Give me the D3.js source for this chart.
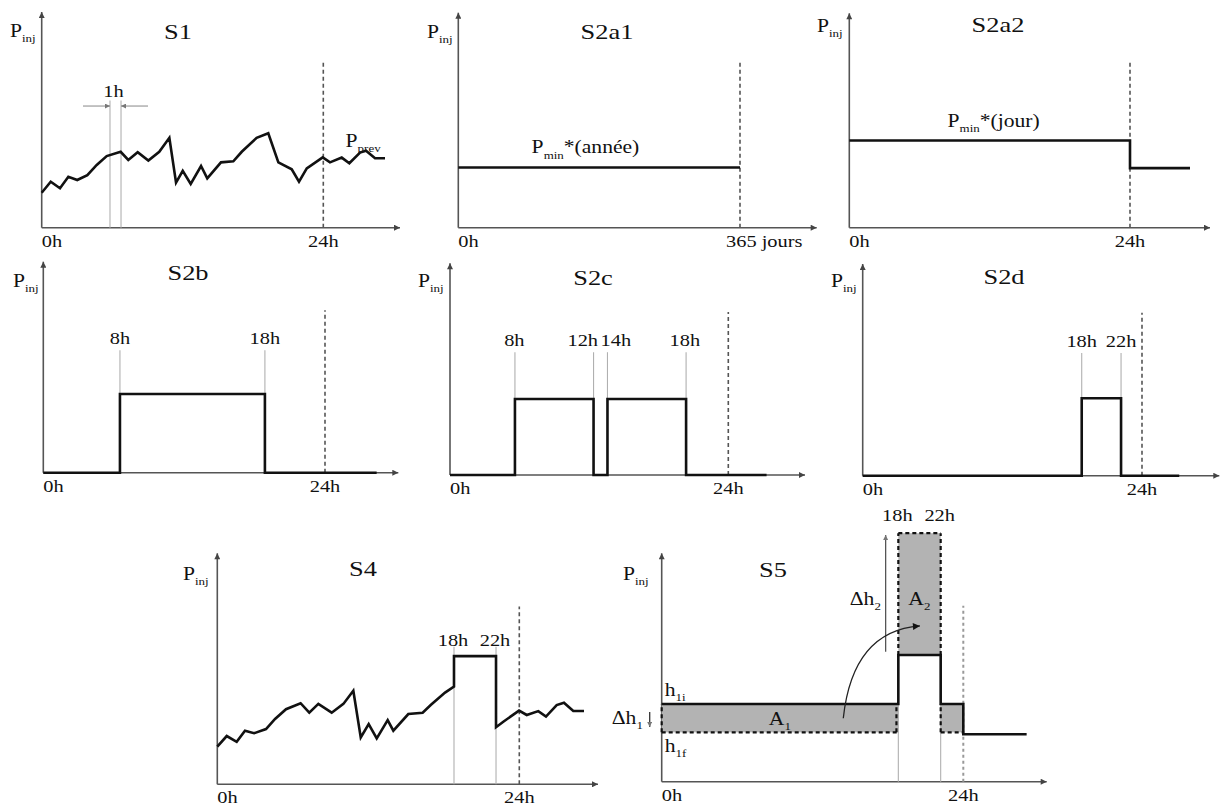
<!DOCTYPE html>
<html><head><meta charset="utf-8">
<script src="https://cdn.jsdelivr.net/npm/d3@7"></script>
<style>body{margin:0;background:#fff}svg{display:block}
svg text{font-family:"Liberation Serif","Times New Roman",Tinos,serif}</style>
</head><body><script>
// ---------------- DATA ----------------
// S1 forecast (hours, power in % of axis height)
const s1Hours = [0,0.77,1.56,2.27,3.03,3.89,4.69,5.54,6.73,7.38,8.18,9.09,10.02,10.88,11.45,12.02,12.7,13.58,14.11,15.28,16.33,17.05,18.32,19.31,20.17,21.31,21.93,22.59,23.95,24.57,25.57,26.22,27.13,27.64,28.41,29.26];
const s1Power = [16.2,21.3,18.3,23.6,22.1,24.4,29.1,33.2,35.2,31.4,35.0,31.1,35.2,41.7,20.9,26.4,20.3,28.6,22.9,30.3,30.8,35.2,41.7,43.8,30.3,27.1,21.3,27.5,32.6,30.3,32.5,29.9,34.8,35.7,32.2,32.2];
const s1Marker = [5.82, 6.76];       // the "1h" interval
// S2a1 : constant over the year
const s2a1Days = [0, 365];
const s2a1Power = [28, 28];
// S2a2 : constant over the day, then lower
const s2a2Hours = [0, 24, 24, 29.13];
const s2a2Power = [40.7, 40.7, 27.8, 27.8];
// S2b, S2c, S2d : injection windows
const s2bEdges = [6.53, 18.88];
const s2bLabels = ["8h", "18h"];
const s2bLevel = 37.3, s2bEnd = 28.4;
const s2cEdges = [5.6, 12.38, 13.58, 20.36];
const s2cLabels = ["8h", "12h", "14h", "18h"];
const s2cLabelAt = [5.55, 11.45, 14.3, 20.25];
const s2cLevel = 35.9, s2cEnd = 27.3;
const s2dEdges = [18.82, 22.2];
const s2dLabels = ["18h", "22h"];
const s2dLevel = 36.6, s2dEnd = 27.2;
// S4 : forecast with peak between 18h and 22h
const s4Hours = [0,0.75,1.54,2.2,2.92,3.87,4.59,5.46,6.62,7.31,8.03,9.09,10.02,10.81,11.4,12.03,12.67,13.54,13.99,15.18,16.32,16.96,18.1,18.81,18.81,22.15,22.15,22.73,23.98,24.59,25.51,26.12,26.97,27.55,28.29,29.14];
const s4Power = [16.3,20.9,18.4,23.2,22.1,23.9,28.3,32.5,35.1,31,34.8,31,34.8,40.5,20.3,26.1,19.9,27.8,23.2,30.4,31,34.3,39.7,42.3,55.5,55.5,24.7,27.1,31.9,30,31.7,29.3,34.3,35.3,31.7,31.7];
const s4Edges = [18.81, 22.15];
const s4Labels = ["18h", "22h"];
// S5 : energy shift
const s5Hours = [0, 18.83, 18.83, 22.2, 22.2, 24, 24, 29.04];
const s5Power = [34, 34, 55.5, 55.5, 34, 34, 20.8, 20.8];
const s5H1i = 34, s5H1f = 21.6, s5Peak = 55.5, s5A2Top = 108.8;
const s5Edges = [18.83, 22.2];
const s5Labels = ["18h", "22h"];
const dashTop = 77;     // height of the 24h dashed markers
const guideTop = 58;    // top of thin guide lines

// ---------------- LAYOUT ----------------
const W = 1221, H = 806;
const SX = 1.2;
const svg = d3.select("body").append("svg").attr("width", W).attr("height", H);
const defs = svg.append("defs");
function marker(id, color, w, h) {
  defs.append("marker").attr("id", id).attr("viewBox", "0 0 10 10")
    .attr("refX", 10).attr("refY", 5).attr("markerWidth", w).attr("markerHeight", h)
    .attr("markerUnits", "userSpaceOnUse").attr("orient", "auto")
    .append("path").attr("d", "M0,0 L10,5 L0,10 z").attr("fill", color);
}
marker("ax", "#444", 9, 6);
marker("blk", "#111", 9, 7);
marker("thin", "#777", 6, 5);

const frames = {
  s1:   {ox: 41.7,  oy: 227.7, top: 12,    right: 400,    ref: 24,  xr: 323.3},
  s2a1: {ox: 458.3, oy: 227.7, top: 12.7,  right: 816.7,  ref: 365, xr: 740},
  s2a2: {ox: 849.3, oy: 227.7, top: 13.3,  right: 1210,   ref: 24,  xr: 1130},
  s2b:  {ox: 43.3,  oy: 472.7, top: 261.7, right: 398.3,  ref: 24,  xr: 325},
  s2c:  {ox: 450,   oy: 475,   top: 263.3, right: 805,    ref: 24,  xr: 728.3},
  s2d:  {ox: 862.7, oy: 475.7, top: 264,   right: 1219.3, ref: 24,  xr: 1142},
  s4:   {ox: 217.3, oy: 784.3, top: 553.3, right: 598,    ref: 24,  xr: 519.3},
  s5:   {ox: 661.7, oy: 781.7, top: 553.3, right: 1046.7, ref: 24,  xr: 963.3}
};
const titles = {s1:["S1",178,39], s2a1:["S2a1",607,39], s2a2:["S2a2",998,32], s2b:["S2b",188,280],
  s2c:["S2c",593,285], s2d:["S2d",1004,284], s4:["S4",363,576], s5:["S5",773,577]};
const pinjPos = {s1:[10,37], s2a1:[427,38], s2a2:[817,32], s2b:[13,287], s2c:[418,287], s2d:[831,287], s4:[183,580], s5:[623,580]};

function rich(g, x, y, parts, size, anchor) {
  const t = g.append("g").attr("transform", `translate(${x},${y}) scale(${SX},1)`)
    .append("text").attr("font-size", size)
    .attr("fill", "#111").attr("text-anchor", anchor || "start");
  let off = 0;
  parts.forEach(p => {
    const sub = Array.isArray(p);
    const txt = sub ? p[0] : p;
    const target = sub ? size * 0.3 : 0;
    t.append("tspan").attr("dy", target - off).attr("font-size", sub ? size * 0.6 : size).text(txt);
    off = target;
  });
}

function panel(key) {
  const f = frames[key];
  const g = svg.append("g");
  const x = d3.scaleLinear().domain([0, f.ref]).range([f.ox, f.xr]);
  const y = d3.scaleLinear().domain([0, 100]).range([f.oy, f.top]);
  g.append("line").attr("x1", x(0)).attr("y1", y(0)).attr("x2", f.right).attr("y2", y(0))
    .attr("stroke", "#555").attr("stroke-width", 1.6).attr("marker-end", "url(#ax)");
  g.append("line").attr("x1", x(0)).attr("y1", y(0)).attr("x2", x(0)).attr("y2", y(100))
    .attr("stroke", "#555").attr("stroke-width", 1.6).attr("marker-end", "url(#ax)");
  const t = titles[key];
  rich(g, t[1], t[2], [t[0]], 22, "middle");
  const p = pinjPos[key];
  rich(g, p[0], p[1], ["P", ["inj"]], 18);
  return {g, x, y, f};
}
function dashed(P, color) {
  P.g.append("line").attr("x1", P.x(P.f.ref)).attr("x2", P.x(P.f.ref))
    .attr("y1", P.y(0)).attr("y2", P.y(dashTop))
    .attr("stroke", color || "#555").attr("stroke-width", 1.6).attr("stroke-dasharray", "4,3");
}
function axisLabels(P, endText, endX, anchor) {
  rich(P.g, P.x(0), P.y(0) + 19, ["0h"], 17, "start");
  rich(P.g, endX == null ? P.x(P.f.ref) : endX, P.y(0) + 19, [endText], 17, anchor || "middle");
}
function series(P, xs, ys) {
  const line = d3.line().x(d => P.x(d[0])).y(d => P.y(d[1]));
  P.g.append("path").datum(xs.map((h, i) => [h, ys[i]])).attr("d", line)
    .attr("fill", "none").attr("stroke", "#111").attr("stroke-width", 2.6).attr("stroke-linejoin", "miter");
}
function guide(P, h, v0, v1) {
  P.g.append("line").attr("x1", P.x(h)).attr("x2", P.x(h)).attr("y1", P.y(v0)).attr("y2", P.y(v1))
    .attr("stroke", "#b0b0b0").attr("stroke-width", 1.1);
}
function pulses(edges, level, end) {
  const xs = [0], ys = [0];
  for (let i = 0; i < edges.length; i += 2) {
    xs.push(edges[i], edges[i], edges[i + 1], edges[i + 1]);
    ys.push(0, level, level, 0);
  }
  xs.push(end); ys.push(0);
  return [xs, ys];
}

// ---- S1
{
  const P = panel("s1");
  dashed(P);
  axisLabels(P, "24h");
  s1Marker.forEach(h => guide(P, h, 0, 59));
  P.g.append("line").attr("x1", P.x(s1Marker[0] - 2.3)).attr("x2", P.x(s1Marker[0])).attr("y1", P.y(56.4)).attr("y2", P.y(56.4))
    .attr("stroke", "#888").attr("stroke-width", 1).attr("marker-end", "url(#thin)");
  P.g.append("line").attr("x1", P.x(s1Marker[1] + 2.3)).attr("x2", P.x(s1Marker[1])).attr("y1", P.y(56.4)).attr("y2", P.y(56.4))
    .attr("stroke", "#888").attr("stroke-width", 1).attr("marker-end", "url(#thin)");
  rich(P.g, P.x((s1Marker[0] + s1Marker[1]) / 2) - 2, P.y(60.5), ["1h"], 17, "middle");
  series(P, s1Hours, s1Power);
  rich(P.g, P.x(25.9), P.y(37.5), ["P", ["prev"]], 18);
}
// ---- S2a1
{
  const P = panel("s2a1");
  dashed(P);
  axisLabels(P, "365 jours", frames.s2a1.xr - 14, "start");
  series(P, s2a1Days, s2a1Power);
  rich(P.g, P.x(95), P.y(34.6), ["P", ["min"], "*(année)"], 18);
}
// ---- S2a2
{
  const P = panel("s2a2");
  dashed(P);
  axisLabels(P, "24h");
  series(P, s2a2Hours, s2a2Power);
  rich(P.g, P.x(8.4), P.y(47.2), ["P", ["min"], "*(jour)"], 18);
}
// ---- S2b, S2c, S2d
function windowPanel(key, edges, labels, labelAt, level, end) {
  const P = panel(key);
  dashed(P);
  axisLabels(P, "24h");
  edges.forEach(h => guide(P, h, level, guideTop));
  labels.forEach((l, i) => rich(P.g, P.x(labelAt[i]), P.y(guideTop) - 6, [l], 17, "middle"));
  const [xs, ys] = pulses(edges, level, end);
  series(P, xs, ys);
}
windowPanel("s2b", s2bEdges, s2bLabels, s2bEdges, s2bLevel, s2bEnd);
windowPanel("s2c", s2cEdges, s2cLabels, s2cLabelAt, s2cLevel, s2cEnd);
windowPanel("s2d", s2dEdges, s2dLabels, s2dEdges, s2dLevel, s2dEnd);
// ---- S4
{
  const P = panel("s4");
  dashed(P);
  axisLabels(P, "24h");
  s4Edges.forEach(h => guide(P, h, 0, 59.5));
  s4Labels.forEach((l, i) => rich(P.g, P.x(s4Edges[i]) - 1, P.y(59.5) - 1, [l], 17, "middle"));
  series(P, s4Hours, s4Power);
}
// ---- S5
{
  const P = panel("s5");
  const g = P.g, x = P.x, y = P.y;
  const grey = "#b3b3b3";
  const rect = (h0, h1, v0, v1) => g.append("rect").attr("x", x(h0)).attr("width", x(h1) - x(h0))
    .attr("y", y(v1)).attr("height", y(v0) - y(v1)).attr("fill", grey);
  rect(0, s5Edges[0], s5H1f, s5H1i);
  rect(s5Edges[0], s5Edges[1], s5Peak, s5A2Top);
  rect(s5Edges[1], 24, s5H1f, s5H1i);
  s5Edges.forEach(h => guide(P, h, 0, s5Peak));
  const dl = (h0, v0, h1, v1) => g.append("line").attr("x1", x(h0)).attr("y1", y(v0)).attr("x2", x(h1)).attr("y2", y(v1))
    .attr("stroke", "#111").attr("stroke-width", 2.2).attr("stroke-dasharray", "4,3");
  dl(0, s5H1f, s5Edges[0], s5H1f);
  dl(0, s5H1f, 0, s5H1i);
  dl(s5Edges[0] - 0.15, s5H1f, s5Edges[0] - 0.15, s5H1i);
  dl(s5Edges[0], s5Peak, s5Edges[0], s5A2Top);
  dl(s5Edges[0], s5A2Top, s5Edges[1], s5A2Top);
  dl(s5Edges[1], s5Peak, s5Edges[1], s5A2Top);
  dl(s5Edges[1], s5H1f, 24, s5H1f);
  dl(s5Edges[1], s5H1f, s5Edges[1], s5H1i);
  // 24h marker (lighter)
  g.append("line").attr("x1", x(24)).attr("x2", x(24)).attr("y1", y(0)).attr("y2", y(dashTop))
    .attr("stroke", "#999").attr("stroke-width", 2).attr("stroke-dasharray", "3,3");
  axisLabels(P, "24h");
  series(P, s5Hours, s5Power);
  s5Labels.forEach((l, i) => rich(g, x(s5Edges[i]) - 1, y(s5A2Top) - 12, [l], 17, "middle"));
  // Δh2 arrow
  g.append("line").attr("x1", x(17.82)).attr("x2", x(17.82)).attr("y1", y(56.9)).attr("y2", y(108))
    .attr("stroke", "#555").attr("stroke-width", 1.3).attr("marker-end", "url(#thin)");
  rich(g, x(16.2), y(77.5), ["Δh", ["2"]], 18, "middle");
  rich(g, x(20.5), y(77.5), ["A", ["2"]], 18, "middle");
  rich(g, x(9.4), y(25), ["A", ["1"]], 18, "middle");
  // curved transfer arrow
  const cp = d3.path();
  cp.moveTo(x(14.45), y(27.8));
  cp.quadraticCurveTo(x(15.2), y(66), x(20.55), y(68.2));
  g.append("path").attr("d", cp.toString()).attr("fill", "none").attr("stroke", "#222")
    .attr("stroke-width", 1.3).attr("marker-end", "url(#blk)");
  // h1i / h1f / Δh1
  rich(g, x(0) + 3, y(37.5), ["h", ["1i"]], 18);
  rich(g, x(0) + 3, y(13.1), ["h", ["1f"]], 18);
  rich(g, x(0) - 50, y(25.4), ["Δh", ["1"]], 18);
  g.append("line").attr("x1", x(0) - 12).attr("x2", x(0) - 12).attr("y1", y(30.5)).attr("y2", y(24))
    .attr("stroke", "#333").attr("stroke-width", 1.3).attr("marker-end", "url(#thin)");
}
</script></body></html>
